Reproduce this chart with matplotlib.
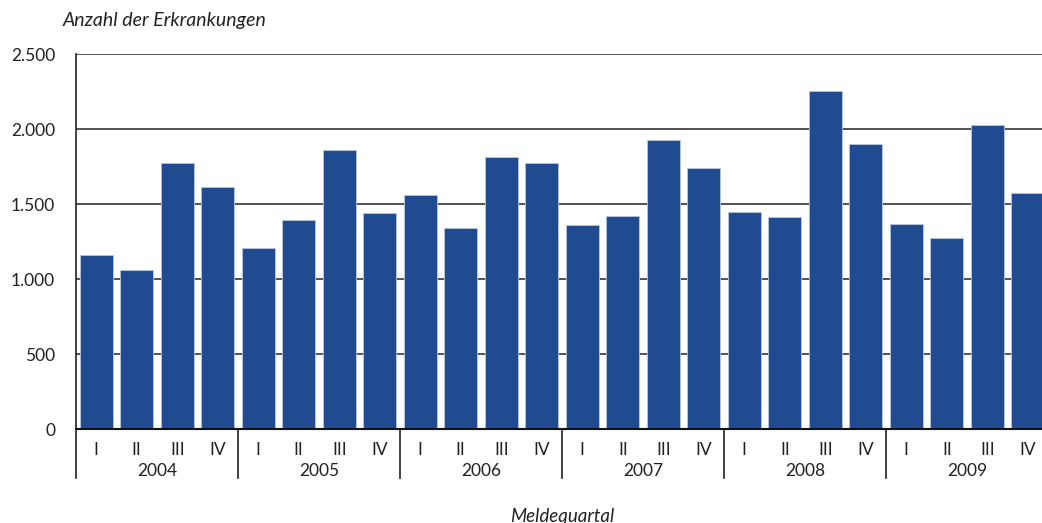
import matplotlib
matplotlib.use("Agg")
import matplotlib.pyplot as plt
import matplotlib.transforms as mtransforms
import numpy as np
from matplotlib.ticker import FuncFormatter

plt.rcParams["font.family"] = ["Lato", "DejaVu Sans"]

# data
years = ["2004", "2005", "2006", "2007", "2008", "2009"]
quarters = ["I", "II", "III", "IV"]
cases = [
    1158, 1058, 1771, 1613,
    1207, 1395, 1862, 1438,
    1558, 1338, 1815, 1775,
    1362, 1422, 1929, 1740,
    1449, 1415, 2255, 1898,
    1365, 1271, 2027, 1573,
]
yticks = [0, 500, 1000, 1500, 2000, 2500]

bar_color = "#214b91"
grid_color = "#444444"

fig = plt.figure(figsize=(10.42, 5.23), dpi=100)
ax = fig.add_axes([0.0729, 0.1797, 0.9329, 0.7170])

n = len(cases)
x = np.arange(n) + 0.5
ax.bar(x, cases, width=0.81, color=bar_color, edgecolor="#b8c6e0",
       linewidth=0.6, zorder=3)

ax.set_xlim(0, n)
ax.set_ylim(0, 2500)
ax.set_yticks(yticks)
ax.yaxis.set_major_formatter(
    FuncFormatter(lambda v, p: f"{int(v):,}".replace(",", "."))
)
ax.tick_params(axis="y", length=0, pad=15, labelsize=12.5, colors="#222222")
ax.set_xticks([])

for v in yticks[1:]:
    ax.axhline(v, color=grid_color, linewidth=1.3, zorder=1)

for side in ("top", "right", "bottom"):
    ax.spines[side].set_visible(False)
ax.spines["left"].set_color("#222222")
ax.spines["left"].set_linewidth(1.2)
ax.axhline(0, color="#111111", linewidth=1.5, zorder=4, clip_on=False)

# grouped category axis: quarters and years
trans = mtransforms.blended_transform_factory(ax.transData, ax.transAxes)
for k, year in enumerate(years):
    left = k * 4
    ax.plot([left, left], [0, -0.131], transform=trans, color="#222222",
            linewidth=1.2, clip_on=False)
    for j, q in enumerate(quarters):
        ax.text(left + j + 0.5, -0.055, q, transform=trans, ha="center",
                va="center", fontsize=12.5, color="#222222")
    ax.text(left + 2, -0.112, year, transform=trans, ha="center",
            va="center", fontsize=12.5, color="#222222")

ax.text(-0.0135, 1.09, "Anzahl der Erkrankungen", transform=ax.transAxes,
        ha="left", va="center", fontsize=14, style="italic",
        color="#222222")
ax.text(0.5, -0.232, "Meldequartal", transform=ax.transAxes, ha="center",
        va="center", fontsize=13.5, style="italic", color="#222222")

fig.savefig("out.png", dpi=100)
